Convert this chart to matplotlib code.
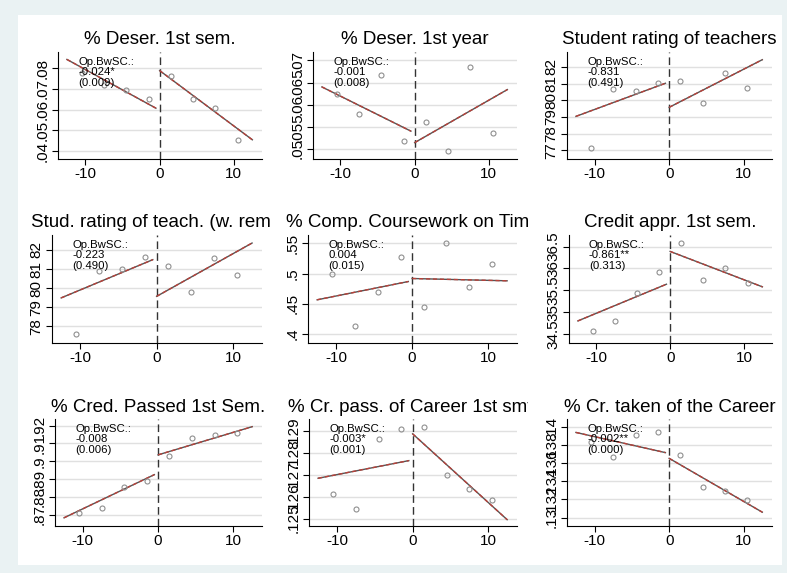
import matplotlib
matplotlib.use("Agg")
import matplotlib.pyplot as plt
from matplotlib.patches import Rectangle
from matplotlib.transforms import Bbox, blended_transform_factory

plt.rcParams['font.family'] = ['Liberation Sans', 'DejaVu Sans']

W, H = 787, 573

# bin centres of the running variable and the fit segments
bins = [-10.5, -7.5, -4.5, -1.5, 1.5, 4.5, 7.5, 10.5]
fit_left_x = [-12.5, -0.5]
fit_right_x = [0, 12.5]

titles = [
    "% Deser. 1st sem.",
    "% Deser. 1st year",
    "Student rating of teachers",
    "Stud. rating of teach. (w. rem.)",
    "% Comp. Coursework on Time",
    "Credit appr. 1st sem.",
    "% Cred. Passed 1st Sem.",
    "% Cr. pass. of Career 1st smt.",
    "% Cr. taken of the Career",
]

estimates = ["-0.024*", "-0.001", "-0.831", "-0.223", "0.004",
             "-0.861**", "-0.008", "-0.003*", "-0.002**"]
std_errors = ["(0.009)", "(0.008)", "(0.491)", "(0.490)", "(0.015)",
              "(0.313)", "(0.006)", "(0.001)", "(0.000)"]

# binned means (8 bins each)
means = [
    [0.0776, 0.0720, 0.0695, 0.0650, 0.0763, 0.0653, 0.0607, 0.0453],
    [0.0623, 0.0579, 0.0668, 0.0518, 0.0560, 0.0494, 0.0686, 0.0536],
    [77.14, 80.70, 80.58, 81.02, 81.14, 79.83, 81.61, 80.76],
    [77.60, 80.91, 81.00, 81.63, 81.14, 79.80, 81.57, 80.69],
    [0.500, 0.4137, 0.4687, 0.527, 0.445, 0.550, 0.478, 0.5165],
    [34.58, 34.80, 35.43, 35.92, 36.58, 35.74, 36.02, 35.67],
    [0.8708, 0.8738, 0.8855, 0.8891, 0.9028, 0.9133, 0.9147, 0.9156],
    [0.12611, 0.12546, 0.12863, 0.12912, 0.12918, 0.12698, 0.12637, 0.12585],
    [0.13833, 0.13667, 0.13911, 0.13937, 0.13685, 0.13337, 0.13289, 0.13189],
]

# linear fits: value at the two ends of each side
fit_left = [
    [0.0843, 0.0607], [0.0640, 0.0540], [79.04, 81.02],
    [79.49, 81.49], [0.4566, 0.4868], [34.80, 35.64],
    [0.8683, 0.8925], [0.12685, 0.12766], [0.13937, 0.13715],
]
fit_right = [
    [0.0789, 0.0454], [0.0514, 0.0634], [79.58, 82.43],
    [79.57, 82.36], [0.4918, 0.4880], [36.39, 35.58],
    [0.9036, 0.9194], [0.12889, 0.12495], [0.13652, 0.13059],
]

yticks = [
    [0.04, 0.05, 0.06, 0.07, 0.08],
    [0.05, 0.055, 0.06, 0.065, 0.07],
    [77, 78, 79, 80, 81, 82],
    [78, 79, 80, 81, 82],
    [0.4, 0.45, 0.5, 0.55],
    [34.5, 35, 35.5, 36, 36.5],
    [0.87, 0.88, 0.89, 0.9, 0.91, 0.92],
    [0.125, 0.126, 0.127, 0.128, 0.129],
    [0.13, 0.132, 0.134, 0.136, 0.138, 0.14],
]
ylims = [
    (0.0361, 0.0879), (0.0477, 0.0719), (76.49, 82.89),
    (77.13, 82.78), (0.3852, 0.5637), (34.295, 36.766),
    (0.8637, 0.9237), (0.12466, 0.12957), (0.12907, 0.14085),
]

# axes boxes in pixels: left, right, top, bottom
col_lr = [[(58, 262), (313, 517), (567, 772)],
          [(52, 262), (308, 517), (569, 772)],
          [(55, 262), (309, 517), (567, 772)]]
row_tb = [(52, 159), (235, 343), (419, 526)]
title_clip = [(0, 270), (270, 528), (528, W)]


def stata_fmt(v):
    s = f"{v:g}"
    if s.startswith("0."):
        s = s[1:]
    return s


fig = plt.figure(figsize=(W / 100, H / 100), dpi=100, facecolor='#EAF2F3')
fig.patches.append(Rectangle((18 / W, (H - 565) / H), (782 - 18) / W, (565 - 15) / H,
                             transform=fig.transFigure, facecolor='white',
                             edgecolor='none', zorder=-10))

for i in range(9):
    r, c = divmod(i, 3)
    L, R = col_lr[r][c]
    T, B = row_tb[r]
    ax = fig.add_axes([L / W, (H - B) / H, (R - L) / W, (B - T) / H])
    ax.set_facecolor('none')

    ax.set_xlim(-13.7, 13.8)
    ax.set_ylim(*ylims[i])
    ax.set_xticks([-10, 0, 10])
    ax.set_xticklabels(["-10", "0", "10"])
    ax.set_yticks(yticks[i])
    ax.set_yticklabels([stata_fmt(v) for v in yticks[i]], rotation=90,
                       va='center', ha='right')
    ax.tick_params(labelsize=11, length=4, width=0.8, pad=2, color='black')
    for s in ['top', 'right']:
        ax.spines[s].set_visible(False)
    for s in ['left', 'bottom']:
        ax.spines[s].set_linewidth(0.8)
    for v in yticks[i]:
        ax.axhline(v, color='#e0e0e0', lw=1.0, zorder=0)

    ax.axvline(0, color='#333333', lw=1.0, ls=(0, (5.5, 3)), zorder=2)

    for xs, ys in [(fit_left_x, fit_left[i]), (fit_right_x, fit_right[i])]:
        ax.plot(xs, ys, color='#555555', lw=1.0, zorder=3)
        ax.plot(xs, ys, color='#b8413a', lw=1.0, ls=(0, (3, 2)), zorder=3)

    ax.plot(bins, means[i], ls='none', marker='o', ms=3.6, mfc='none',
            mec='#8f8f8f', mew=0.8, zorder=4)

    tr = blended_transform_factory(ax.transData, ax.transAxes)
    ax.text(-11.0, 0.955, "Op.BwSC.:\n" + estimates[i] + "\n" + std_errors[i],
            transform=tr, va='top', ha='left', fontsize=8.2,
            linespacing=1.05, zorder=5)

    t = fig.text((L + R) / 2 / W, (H - (T - 12)) / H, titles[i],
                 ha='center', va='center', fontsize=13.5)
    x0, x1 = title_clip[c]
    t.set_clip_box(Bbox.from_extents(x0, 0, x1, H))
    t.set_clip_on(True)

fig.savefig("out.png", dpi=100, facecolor=fig.get_facecolor())
